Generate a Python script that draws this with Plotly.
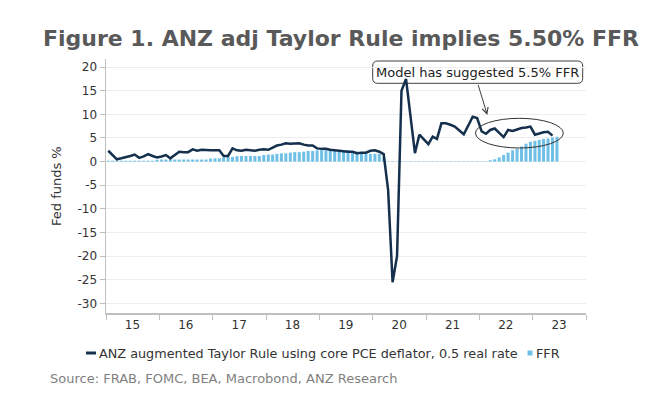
import pandas as pd
import plotly.graph_objects as go

# ---------------- data ----------------
ffr_months = pd.date_range("2015-01-01", "2023-06-01", freq="MS")
ffr = [
    0.2, 0.2, 0.2, 0.2, 0.2, 0.2, 0.2, 0.2, 0.2, 0.2, 0.2, 0.4,
    0.45, 0.45, 0.45, 0.45, 0.45, 0.45, 0.45, 0.45, 0.45, 0.45, 0.45, 0.65,
    0.7, 0.7, 0.9, 1.0, 1.0, 1.15, 1.2, 1.2, 1.2, 1.2, 1.2, 1.4,
    1.5, 1.5, 1.65, 1.75, 1.75, 1.9, 2.0, 2.0, 2.1, 2.25, 2.25, 2.4,
    2.45, 2.45, 2.45, 2.45, 2.45, 2.45, 2.45, 2.2, 2.1, 1.9, 1.65, 1.65,
    1.65, 1.65, 0.8, 0.08, 0.08, 0.08, 0.08, 0.08, 0.08, 0.08, 0.08, 0.08,
    0.08, 0.08, 0.08, 0.08, 0.08, 0.08, 0.08, 0.08, 0.08, 0.08, 0.08, 0.08,
    0.08, 0.08, 0.3, 0.5, 0.9, 1.4, 1.9, 2.4, 2.7, 3.2, 3.8, 4.2,
    4.4, 4.6, 4.8, 4.9, 5.1, 5.25,
]
taylor = [
    2.3, 1.4, 0.5, 0.7, 0.9, 1.2, 1.5, 0.8, 1.1, 1.6, 1.2, 0.9,
    1.1, 1.4, 0.7, 1.4, 2.1, 2.0, 2.0, 2.6, 2.3, 2.5, 2.4, 2.4,
    2.4, 2.4, 1.2, 1.2, 2.8, 2.4, 2.3, 2.5, 2.4, 2.3, 2.5, 2.6,
    2.5, 3.0, 3.4, 3.6, 3.9, 3.8, 3.8, 3.9, 3.6, 3.4, 3.4, 2.8,
    2.7, 2.7, 2.5, 2.4, 2.2, 2.1, 2.1, 2.1, 1.8, 1.9, 1.9, 2.3,
    2.4, 2.1, 1.6, -6.0, -25.5, -20.0, 15.0, 17.5, 10.0, 1.8, 5.7, 4.7,
    3.7, 5.3, 4.8, 8.1, 8.1, 7.8, 7.4, 6.6, 5.8, 7.6, 9.5, 9.2,
    6.4, 5.9, 6.7, 7.0, 6.0, 5.2, 6.7, 6.5, 6.8, 7.1, 7.2, 7.4,
    5.7, 6.0, 6.2, 6.3, 5.5,
]
taylor_months = ffr_months[: len(taylor)]

year_tick_vals = [f"{y}-07-01" for y in range(2015, 2024)]
year_tick_text = ["15", "16", "17", "18", "19", "20", "21", "22", "23"]
y_tick_vals = [20, 15, 10, 5, 0, -5, -10, -15, -20, -25, -30]
y_tick_text = ["20", "15", "10", "5", "0", "-5", "-10", "-15", "-20", "-25", "-30"]

line_name = "ANZ augmented Taylor Rule using core PCE deflator, 0.5 real rate"
bar_name = "FFR"
title_text = "Figure 1. ANZ adj Taylor Rule implies 5.50% FFR"
source_text = "Source: FRAB, FOMC, BEA, Macrobond, ANZ Research"
note_text = "Model has suggested 5.5% FFR"

# ---------------- style / layout helpers ----------------
W, H = 656, 396
L, R, T, B = 106, 586, 59, 313
NAVY = "#14304d"
BLUE = "#6fbfe6"
FONT = "DejaVu Sans"


def px2x(px):
    return (px - L) / (R - L)


def px2y(py):
    return (B - py) / (B - T)


fig = go.Figure()
fig.add_trace(go.Bar(
    x=ffr_months, y=ffr, name=bar_name, marker=dict(color=BLUE, line=dict(width=0)),
    xperiod="M1", xperiodalignment="middle", showlegend=False,
))
fig.add_trace(go.Scatter(
    x=taylor_months, y=taylor, name=line_name, mode="lines",
    line=dict(color=NAVY, width=2.5), xperiod="M1", xperiodalignment="middle",
    showlegend=False,
))

# rounded box for the note
bx0, bx1, by0, by1, rad = 372.7, 582.7, 61, 83.3, 5
rx = rad / (R - L)
ry = rad / (B - T)
X0, X1, Y0, Y1 = px2x(bx0), px2x(bx1), px2y(by1), px2y(by0)
box_path = (
    f"M{X0+rx},{Y0} L{X1-rx},{Y0} Q{X1},{Y0} {X1},{Y0+ry} "
    f"L{X1},{Y1-ry} Q{X1},{Y1} {X1-rx},{Y1} L{X0+rx},{Y1} "
    f"Q{X0},{Y1} {X0},{Y1-ry} L{X0},{Y0+ry} Q{X0},{Y0} {X0+rx},{Y0} Z"
)

LEG_Y = 353
LEG_FONT = 12.8
fig.update_layout(
    width=W, height=H,
    margin=dict(l=L, r=W - R, t=T, b=H - B, pad=0),
    paper_bgcolor="white", plot_bgcolor="white",
    font=dict(family=FONT, size=12, color="#333333"),
    bargap=0.3,
    showlegend=False,
    title=dict(
        text=f"<b>{title_text}</b>", x=341 / W, xanchor="center",
        y=1 - 38 / H, yanchor="middle", font=dict(size=22, color="#595959", family=FONT),
    ),
    xaxis=dict(
        type="date", range=["2015-01-01", "2024-01-01"],
        showgrid=False, zeroline=False,
        showline=True, linecolor="#bfbfbf", linewidth=1.5,
        tickmode="array", tickvals=year_tick_vals, ticktext=year_tick_text, ticks="",
        tickfont=dict(size=12, color="#333333"),
        minor=dict(ticks="outside", ticklen=5, tickcolor="#bfbfbf", tick0="2015-01-01",
                   dtick="M12", showgrid=False),
    ),
    yaxis=dict(
        range=[-32, 21.7], tickmode="array", tickvals=y_tick_vals, ticktext=y_tick_text,
        showgrid=True, gridcolor="#ededed", gridwidth=1, zeroline=False,
        showline=True, linecolor="#bfbfbf", linewidth=1.5,
        ticks="outside", ticklen=5, tickcolor="#bfbfbf",
        tickfont=dict(size=12, color="#333333"),
    ),
    shapes=[
        dict(type="path", path=box_path, xref="paper", yref="paper",
             line=dict(color="#404040", width=1), fillcolor="white", layer="between"),
        dict(type="circle", xref="paper", yref="paper",
             x0=px2x(475.5), x1=px2x(563.3), y0=px2y(148), y1=px2y(118.3),
             line=dict(color="#333333", width=1)),
        # legend symbols
        dict(type="line", xref="paper", yref="paper", x0=px2x(86), x1=px2x(96),
             y0=px2y(LEG_Y), y1=px2y(LEG_Y), line=dict(color=NAVY, width=3)),
        dict(type="rect", xref="paper", yref="paper", x0=px2x(527.5), x1=px2x(532.5),
             y0=px2y(LEG_Y + 2.5), y1=px2y(LEG_Y - 2.5), line=dict(width=0), fillcolor=BLUE),
    ],
    annotations=[
        dict(text="Fed funds %", xref="paper", yref="paper", x=px2x(56), y=px2y(186),
             textangle=-90, showarrow=False, xanchor="center", yanchor="middle",
             font=dict(size=13, color="#333333")),
        dict(text=source_text, xref="paper", yref="paper", x=px2x(48), y=px2y(378),
             xanchor="left", yanchor="middle", showarrow=False,
             font=dict(size=13, color="#7f7f7f")),
        dict(text=line_name, xref="paper", yref="paper", x=px2x(97), y=px2y(LEG_Y),
             xanchor="left", yanchor="middle", showarrow=False,
             font=dict(size=LEG_FONT, color="#333333")),
        dict(text=bar_name, xref="paper", yref="paper", x=px2x(534), y=px2y(LEG_Y),
             xanchor="left", yanchor="middle", showarrow=False,
             font=dict(size=LEG_FONT, color="#333333")),
        dict(text=note_text, xref="paper", yref="paper", x=px2x(477.7), y=px2y(72.2),
             xanchor="center", yanchor="middle", showarrow=False,
             font=dict(size=13, color="#222222")),
        dict(text="", xref="paper", yref="paper", x=px2x(487.3), y=px2y(115),
             showarrow=True, ax=-9.6, ay=-31.7, arrowhead=5, arrowsize=1.2,
             arrowwidth=1, arrowcolor="#404040", standoff=0),
    ],
)

fig.write_html(
    "out.html",
    config={"displayModeBar": False, "staticPlot": True},
    post_script="document.body.style.margin='0px';",
)
